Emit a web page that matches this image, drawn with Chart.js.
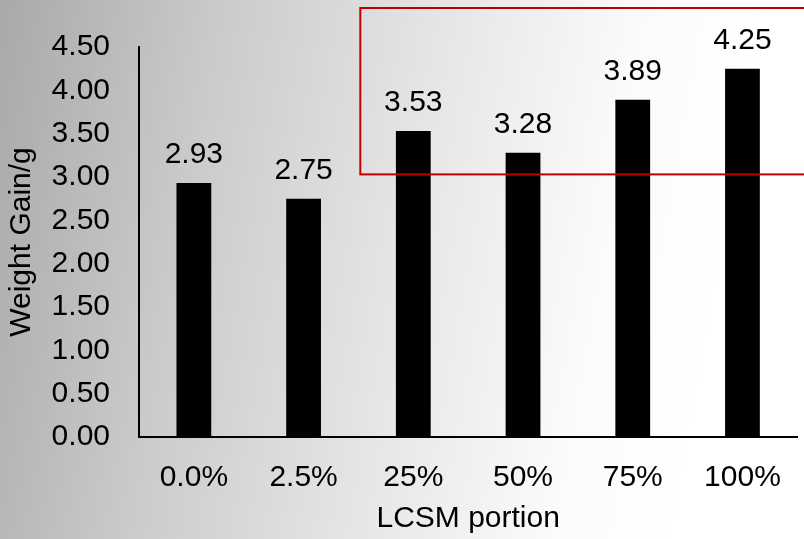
<!DOCTYPE html>
<html>
<head>
<meta charset="utf-8">
<script src="https://cdn.jsdelivr.net/npm/chart.js@4"></script>
<style>
  html, body { margin: 0; padding: 0; }
  body {
    width: 804px; height: 539px; overflow: hidden;
    background: linear-gradient(100deg, #a9a9a9 0%, #cbcbcb 25%, #e6e6e6 50%, #fbfbfb 72%, #ffffff 85%);
  }
  #wrap { position: relative; width: 804px; height: 539px; }
</style>
</head>
<body>
<div id="wrap"><canvas id="chart" width="804" height="539"></canvas></div>
<script>
const categories = ['0.0%', '2.5%', '25%', '50%', '75%', '100%'];
const weightGain = [2.93, 2.75, 3.53, 3.28, 3.89, 4.25];
const yTicks = [0, 0.5, 1, 1.5, 2, 2.5, 3, 3.5, 4, 4.5];

// highlight box, in data units (category index / value)
const boxFrom = 1.517;
const boxTop = 4.95;
const boxBottom = 3.03;

const FONT = 'Liberation Sans, Arial, sans-serif';

const valueLabels = {
  id: 'valueLabels',
  afterDatasetsDraw(chart) {
    const ctx = chart.ctx;
    const meta = chart.getDatasetMeta(0);
    ctx.save();
    ctx.font = '30px ' + FONT;
    ctx.fillStyle = '#000';
    ctx.textAlign = 'center';
    ctx.textBaseline = 'alphabetic';
    meta.data.forEach((bar, i) => {
      ctx.fillText(weightGain[i].toFixed(2), bar.x, bar.y - 20);
    });
    ctx.restore();
  }
};

const highlightBox = {
  id: 'highlightBox',
  afterDraw(chart) {
    const { ctx, scales } = chart;
    const left = scales.x.getPixelForValue(boxFrom);
    const top = scales.y.getPixelForValue(boxTop);
    const bottom = scales.y.getPixelForValue(boxBottom);
    ctx.save();
    ctx.strokeStyle = '#c00000';
    ctx.lineWidth = 2;
    ctx.strokeRect(left, top, chart.width - left + 10, bottom - top);
    ctx.restore();
  }
};

new Chart(document.getElementById('chart'), {
  type: 'bar',
  data: {
    labels: categories,
    datasets: [{
      data: weightGain,
      backgroundColor: '#000',
      barPercentage: 0.317,
      categoryPercentage: 1
    }]
  },
  options: {
    responsive: false,
    animation: false,
    devicePixelRatio: 1,
    layout: { padding: { top: 45, left: 0, right: 2, bottom: 0 } },
    plugins: { legend: { display: false }, tooltip: { enabled: false } },
    scales: {
      x: {
        afterFit(axis) { axis.height = 102; },
        grid: { display: false, drawTicks: false },
        border: { display: true, color: '#000', width: 2 },
        ticks: { color: '#000', font: { family: FONT, size: 30 }, padding: 23, maxRotation: 0 },
        title: { display: true, text: 'LCSM portion', color: '#000', font: { family: FONT, size: 30 }, padding: { top: 0, bottom: 2 } }
      },
      y: {
        min: 0,
        max: 4.5,
        afterFit(axis) { axis.width = 139; },
        afterBuildTicks(axis) { axis.ticks = yTicks.map(v => ({ value: v })); },
        grid: { display: false, drawTicks: false },
        border: { display: true, color: '#000', width: 2 },
        ticks: { color: '#000', font: { family: FONT, size: 30 }, padding: 29, callback: v => Number(v).toFixed(2) },
        title: { display: true, text: 'Weight Gain/g', color: '#000', font: { family: FONT, size: 30 }, padding: { top: 4, bottom: 4 } }
      }
    }
  },
  plugins: [valueLabels, highlightBox]
});
</script>
</body>
</html>
